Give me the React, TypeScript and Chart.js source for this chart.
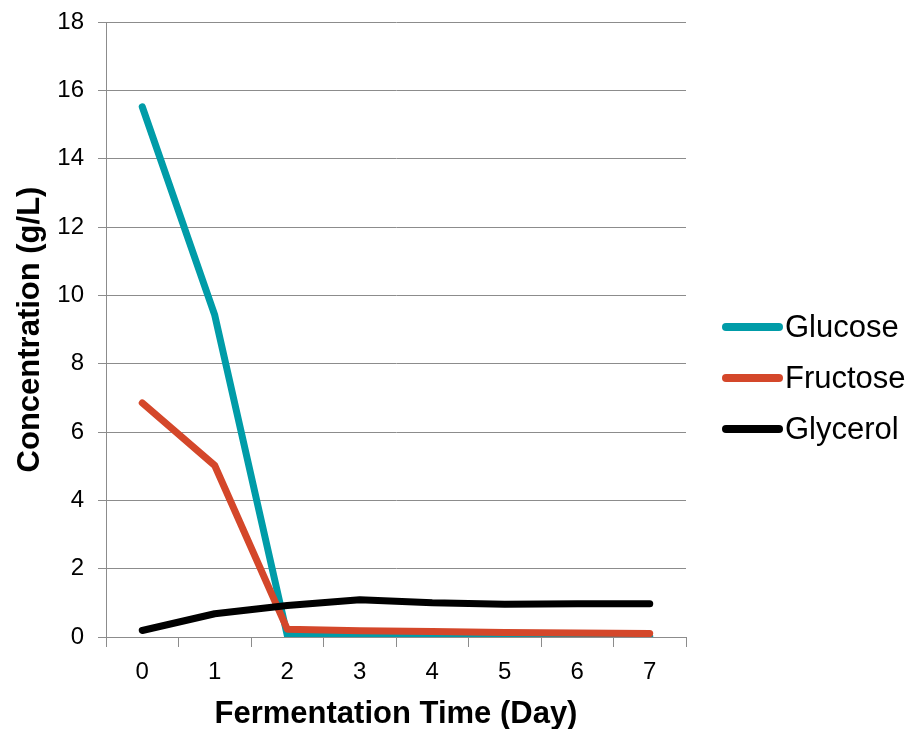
import React, { useEffect, useRef } from "react";
import { Chart, registerables } from "chart.js";

Chart.register(...registerables);

const days = ["0", "1", "2", "3", "4", "5", "6", "7"];
const glucose = [15.52, 9.42, 0.05, 0.03, 0.03, 0.02, 0.02, 0.02];
const fructose = [6.85, 5.02, 0.23, 0.18, 0.16, 0.13, 0.12, 0.1];
const glycerol = [0.19, 0.68, 0.92, 1.09, 1.0, 0.96, 0.97, 0.97];
const seriesNames = ["Glucose", "Fructose", "Glycerol"];
const seriesColors = ["#009CA8", "#D4472A", "#000000"];

const FONT = "'Liberation Sans', Arial, sans-serif";

const legendPlugin = {
  id: "customLegend",
  afterDraw(chart: any) {
    const ctx = chart.ctx;
    ctx.save();
    const x0 = 726;
    const x1 = 779;
    const ys = [327, 378, 429];
    seriesNames.forEach((name, i) => {
      ctx.strokeStyle = seriesColors[i];
      ctx.lineWidth = 8;
      ctx.lineCap = "round";
      ctx.beginPath();
      ctx.moveTo(x0, ys[i]);
      ctx.lineTo(x1, ys[i]);
      ctx.stroke();
      ctx.fillStyle = "#000";
      ctx.font = `31px ${FONT}`;
      ctx.textBaseline = "middle";
      ctx.textAlign = "left";
      ctx.fillText(name, 785, ys[i] + 1);
    });
    ctx.restore();
  },
};

export default function App() {
  const ref = useRef<HTMLCanvasElement>(null);
  useEffect(() => {
    if (!ref.current) return;
    const gridColor = "#8C8C8C";
    const chart = new Chart(ref.current, {
      type: "line",
      data: {
        labels: days,
        datasets: [
          { label: seriesNames[0], data: glucose, borderColor: seriesColors[0], order: 3 },
          { label: seriesNames[1], data: fructose, borderColor: seriesColors[1], order: 2 },
          { label: seriesNames[2], data: glycerol, borderColor: seriesColors[2], order: 1 },
        ].map((d) => ({
          ...d,
          borderWidth: 7,
          borderCapStyle: "round" as const,
          borderJoinStyle: "round" as const,
          pointRadius: 0,
          tension: 0,
          fill: false,
        })),
      },
      options: {
        responsive: false,
        animation: false,
        layout: { padding: { top: 22, right: 227, left: 0, bottom: 0 } },
        plugins: { legend: { display: false }, tooltip: { enabled: false } },
        scales: {
          x: {
            offset: true,
            grid: {
              offset: true,
              drawOnChartArea: false,
              drawTicks: true,
              tickLength: 10,
              color: gridColor,
            },
            border: { color: gridColor, width: 1 },
            ticks: { color: "#000", font: { family: FONT, size: 24 }, padding: 11 },
            title: {
              display: true,
              text: "Fermentation Time (Day)",
              color: "#000",
              font: { family: FONT, size: 31, weight: "bold" },
              padding: { top: 2, bottom: -4 },
            },
            afterFit(scale: any) {
              scale.height = 92;
              scale.paddingLeft = 0;
              scale.paddingRight = 0;
            },
          },
          y: {
            min: 0,
            max: 18,
            ticks: {
              stepSize: 2,
              color: "#000",
              font: { family: FONT, size: 24 },
              padding: 14,
            },
            grid: { color: gridColor, tickLength: 8, lineWidth: 1 },
            border: { color: gridColor, width: 1 },
            title: {
              display: true,
              text: "Concentration (g/L)",
              color: "#000",
              font: { family: FONT, size: 31, weight: "bold" },
              padding: { top: 12, bottom: 2 },
            },
            afterFit(scale: any) {
              scale.width = 106;
              scale.paddingTop = 0;
              scale.paddingBottom = 0;
            },
          },
        },
      },
      plugins: [legendPlugin],
    });
    return () => chart.destroy();
  }, []);
  return (
    <div style={{ position: "absolute", left: 0, top: 0, width: 913, height: 729, background: "#fff" }}>
      <canvas ref={ref} width={913} height={729} style={{ display: "block" }} />
    </div>
  );
}
